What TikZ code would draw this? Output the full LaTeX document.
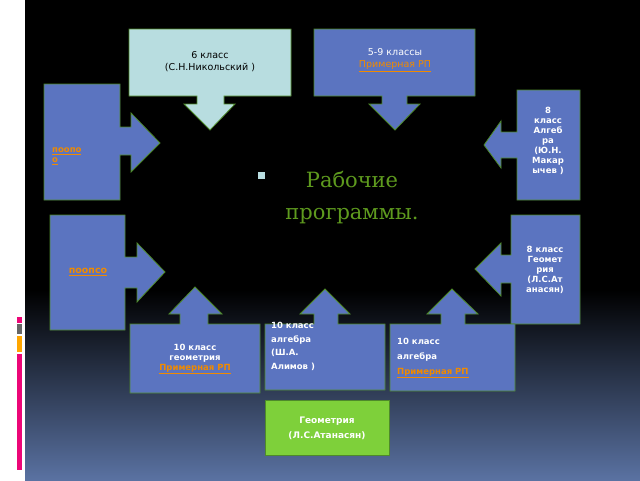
\documentclass[tikz,border=0pt]{standalone}
\usepackage{fontspec}
\setmainfont{DejaVu Sans}
\newfontfamily\titlefont{DejaVu Serif}
\definecolor{boxblue}{HTML}{5B74C0}
\definecolor{boxedge}{HTML}{4E8A2A}
\definecolor{lightbox}{HTML}{B8DDE0}
\definecolor{linkorange}{HTML}{F08A00}
\definecolor{greenbox}{HTML}{7ED03A}
\definecolor{titlegreen}{HTML}{5E9A1E}
\definecolor{bottomblue}{HTML}{5A72A2}
\newcommand{\rp}[1]{\textcolor{linkorange}{\underline{#1}}}
\begin{document}
\begin{tikzpicture}[x=1pt,y=-1pt,
    callout/.style={draw=boxedge,line width=0.8pt,fill=boxblue},
    lbl/.style={text=white,font=\bfseries\fontsize{8.5}{10}\selectfont,align=center,inner sep=0pt}]
\useasboundingbox (0,0) rectangle (640,480);
\fill[white] (0,0) rectangle (25,480);
\fill[black] (25,0) rectangle (640,290);
\shade[top color=black,bottom color=bottomblue] (25,290) rectangle (640,480);
% left markers
\fill[magenta!80!red] (17,317) rectangle (22,323);
\fill[gray!80!black] (17,324) rectangle (22,334);
\fill[orange!70!yellow] (17,336) rectangle (22,352);
\fill[magenta!80!red] (17,354) rectangle (22,470);
% top callouts
\draw[callout,fill=lightbox] (129,29) -- (291,29) -- (291,96) -- (224,96) -- (224,104) -- (235,104)
    -- (210,130) -- (184,104) -- (197,104) -- (197,96) -- (129,96) -- cycle;
\node[align=center,font=\fontsize{9.5}{12}\selectfont] (six) at (210,62) {6 класс\\(С.Н.Никольский )};
\draw[callout] (314,29) -- (475,29) -- (475,96) -- (407,96) -- (407,104) -- (420,104)
    -- (395,130) -- (369,104) -- (382,104) -- (382,96) -- (314,96) -- cycle;
\node[align=center,text=white,font=\fontsize{9.5}{12}\selectfont] (five) at (395,60) {5-9 классы\\\rp{Примерная РП}};
% left callouts
\draw[callout] (44,84) -- (120,84) -- (120,127) -- (131,127) -- (131,113) -- (160,143)
    -- (131,172) -- (131,155) -- (120,155) -- (120,200) -- (44,200) -- cycle;
\node[lbl,align=left,anchor=west] (poopo) at (52,156) {\rp{поопо}\\\rp{о}};
\draw[callout] (50,215) -- (125,215) -- (125,257) -- (137,257) -- (137,243) -- (165,272)
    -- (137,302) -- (137,288) -- (125,288) -- (125,330) -- (50,330) -- cycle;
\node[lbl,font=\bfseries\fontsize{9.5}{12}\selectfont] (poopso) at (88,272) {\rp{поопсо}};
% right callouts
\draw[callout] (517,90) -- (580,90) -- (580,200) -- (517,200) -- (517,158) -- (501,158)
    -- (501,168) -- (484,145) -- (501,121) -- (501,132) -- (517,132) -- cycle;
\node[lbl] (alg8) at (548,141) {8\\класс\\Алгеб\\ра\\(Ю.Н.\\Макар\\ычев )};
\draw[callout] (511,215) -- (580,215) -- (580,324) -- (511,324) -- (511,283) -- (501,283)
    -- (501,296) -- (475,269) -- (501,243) -- (501,255) -- (511,255) -- cycle;
\node[lbl] (geom8) at (545,270) {8 класс\\Геомет\\рия\\(Л.С.Ат\\анасян)};
% bottom callouts
\draw[callout] (130,324) -- (180,324) -- (180,314) -- (169,314) -- (195,287) -- (222,314)
    -- (208,314) -- (208,324) -- (260,324) -- (260,393) -- (130,393) -- cycle;
\node[lbl] (geom10) at (195,359) {10 класс\\геометрия\\\rp{Примерная РП}};
\draw[callout] (265,324) -- (314,324) -- (314,314) -- (300,314) -- (325,289) -- (350,314)
    -- (338,314) -- (338,324) -- (385,324) -- (385,390) -- (265,390) -- cycle;
\node[lbl,align=left,anchor=north west,font=\bfseries\fontsize{8.5}{13.5}\selectfont] (alg10a) at (271,322) {10 класс\\алгебра\\(Ш.А.\\Алимов )};
\draw[callout] (390,324) -- (441,324) -- (441,314) -- (427,314) -- (452,289) -- (478,314)
    -- (465,314) -- (465,324) -- (515,324) -- (515,391) -- (390,391) -- cycle;
\node[lbl,align=left,anchor=west,font=\bfseries\fontsize{8.5}{15}\selectfont] (alg10b) at (397,358) {10 класс\\алгебра\\\rp{Примерная РП}};
% green box
\draw[draw=boxedge,line width=0.8pt,fill=greenbox] (265,400) rectangle (389,455);
\node[lbl,font=\bfseries\fontsize{9}{15}\selectfont] (geomatn) at (327,428) {Геометрия\\(Л.С.Атанасян)};
% title
\fill[lightbox] (258,172) rectangle (265,179);
\node[text=titlegreen,font=\titlefont\fontsize{21}{32}\selectfont,align=center] (title) at (352,198) {Рабочие\\программы.};
\end{tikzpicture}
\end{document}
